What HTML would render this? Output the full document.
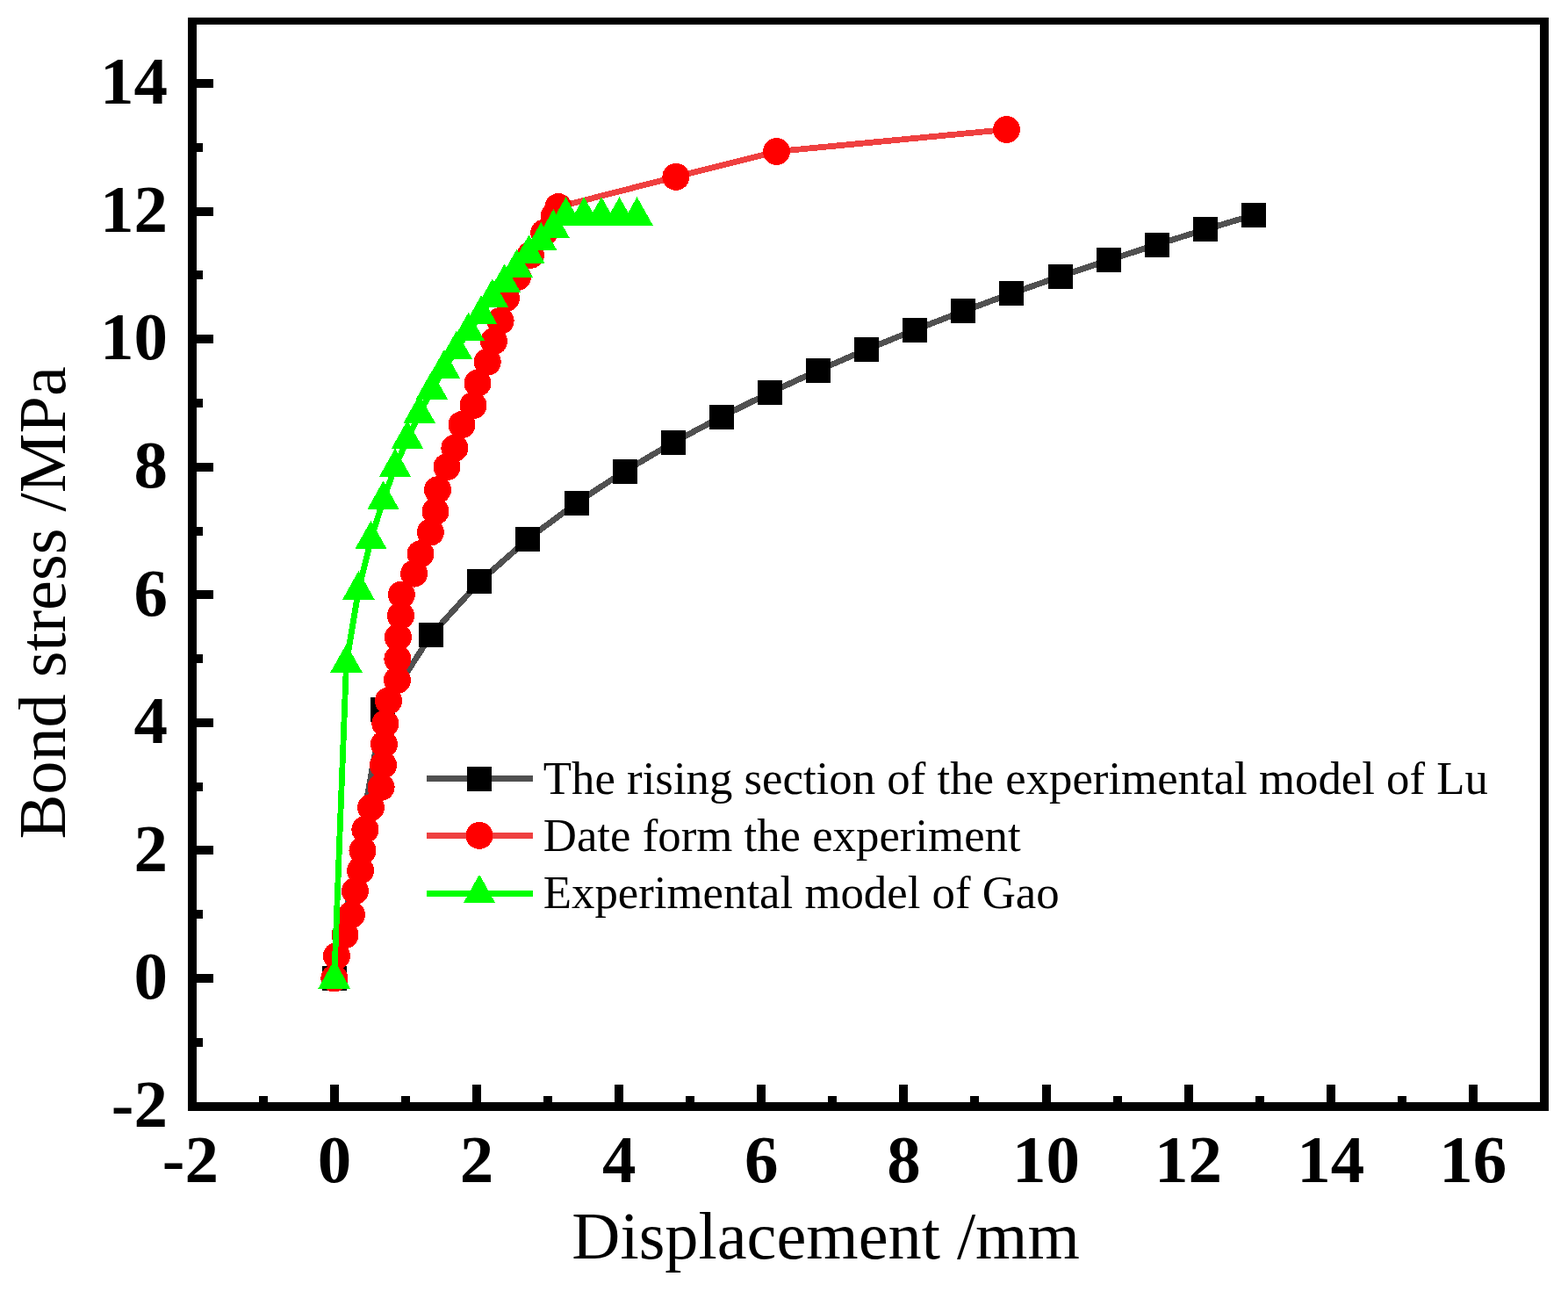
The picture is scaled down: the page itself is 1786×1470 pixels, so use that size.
<!DOCTYPE html><html><head><meta charset="utf-8"><title>Bond stress vs displacement</title>
<style>html,body{margin:0;padding:0;background:#fff;}body{width:1786px;height:1470px;overflow:hidden;}svg{display:block;}rect,circle,path,polyline{shape-rendering:crispEdges;}
text{font-family:"Liberation Serif","Times New Roman",serif;fill:#000;}
.tk{font-weight:bold;font-size:77px;}.at{font-size:76.3px;}.lg{font-size:52.8px;}</style></head><body>
<svg width="1786" height="1470" viewBox="0 0 1786 1470">
<rect x="0" y="0" width="1786" height="1470" fill="#fff"/>
<polyline fill="none" stroke="#505050" stroke-width="6.8" stroke-linejoin="round" points="381.0,1114.0 436.1,808.1 491.2,722.8 546.3,662.3 601.4,613.8 656.5,572.6 711.6,536.5 766.7,504.0 821.8,474.5 876.9,447.2 932.0,421.8 987.1,398.0 1042.2,375.6 1097.3,354.3 1152.4,334.1 1207.5,314.8 1262.6,296.3 1317.7,278.5 1372.8,261.4 1427.9,244.9"/>
<g fill="#000"><rect x="367.0" y="1100.0" width="28" height="28"/><rect x="422.1" y="794.1" width="28" height="28"/><rect x="477.2" y="708.8" width="28" height="28"/><rect x="532.3" y="648.3" width="28" height="28"/><rect x="587.4" y="599.8" width="28" height="28"/><rect x="642.5" y="558.6" width="28" height="28"/><rect x="697.6" y="522.5" width="28" height="28"/><rect x="752.7" y="490.0" width="28" height="28"/><rect x="807.8" y="460.5" width="28" height="28"/><rect x="862.9" y="433.2" width="28" height="28"/><rect x="918.0" y="407.8" width="28" height="28"/><rect x="973.1" y="384.0" width="28" height="28"/><rect x="1028.2" y="361.6" width="28" height="28"/><rect x="1083.3" y="340.3" width="28" height="28"/><rect x="1138.4" y="320.1" width="28" height="28"/><rect x="1193.5" y="300.8" width="28" height="28"/><rect x="1248.6" y="282.3" width="28" height="28"/><rect x="1303.7" y="264.5" width="28" height="28"/><rect x="1358.8" y="247.4" width="28" height="28"/><rect x="1413.9" y="230.9" width="28" height="28"/></g>
<polyline fill="none" stroke="#ef4040" stroke-width="6.8" stroke-linejoin="round" points="380.8,1114.0 383.4,1088.5 393.0,1064.6 400.4,1041.4 404.5,1014.5 410.6,991.2 413.0,968.5 415.9,944.6 422.5,919.5 434.1,896.3 436.5,871.2 437.5,847.3 438.8,823.8 442.5,798.0 452.5,774.3 452.9,750.4 453.4,725.7 456.5,701.0 457.4,677.1 471.6,653.1 479.0,630.7 490.4,606.0 496.0,582.3 498.5,557.8 509.0,531.7 517.9,510.2 526.0,483.6 539.0,461.6 544.0,436.3 555.2,412.2 562.5,388.7 570.1,365.4 576.5,339.3 589.6,315.3 604.4,290.3 619.7,265.2 631.4,245.4 636.0,235.6 769.9,201.4 884.5,172.5 1146.5,147.5"/>
<g fill="#ff0000"><circle cx="380.8" cy="1114.0" r="15.5"/><circle cx="383.4" cy="1088.5" r="15.5"/><circle cx="393.0" cy="1064.6" r="15.5"/><circle cx="400.4" cy="1041.4" r="15.5"/><circle cx="404.5" cy="1014.5" r="15.5"/><circle cx="410.6" cy="991.2" r="15.5"/><circle cx="413.0" cy="968.5" r="15.5"/><circle cx="415.9" cy="944.6" r="15.5"/><circle cx="422.5" cy="919.5" r="15.5"/><circle cx="434.1" cy="896.3" r="15.5"/><circle cx="436.5" cy="871.2" r="15.5"/><circle cx="437.5" cy="847.3" r="15.5"/><circle cx="438.8" cy="823.8" r="15.5"/><circle cx="442.5" cy="798.0" r="15.5"/><circle cx="452.5" cy="774.3" r="15.5"/><circle cx="452.9" cy="750.4" r="15.5"/><circle cx="453.4" cy="725.7" r="15.5"/><circle cx="456.5" cy="701.0" r="15.5"/><circle cx="457.4" cy="677.1" r="15.5"/><circle cx="471.6" cy="653.1" r="15.5"/><circle cx="479.0" cy="630.7" r="15.5"/><circle cx="490.4" cy="606.0" r="15.5"/><circle cx="496.0" cy="582.3" r="15.5"/><circle cx="498.5" cy="557.8" r="15.5"/><circle cx="509.0" cy="531.7" r="15.5"/><circle cx="517.9" cy="510.2" r="15.5"/><circle cx="526.0" cy="483.6" r="15.5"/><circle cx="539.0" cy="461.6" r="15.5"/><circle cx="544.0" cy="436.3" r="15.5"/><circle cx="555.2" cy="412.2" r="15.5"/><circle cx="562.5" cy="388.7" r="15.5"/><circle cx="570.1" cy="365.4" r="15.5"/><circle cx="576.5" cy="339.3" r="15.5"/><circle cx="589.6" cy="315.3" r="15.5"/><circle cx="604.4" cy="290.3" r="15.5"/><circle cx="619.7" cy="265.2" r="15.5"/><circle cx="631.4" cy="245.4" r="15.5"/><circle cx="636.0" cy="235.6" r="15.5"/><circle cx="769.9" cy="201.4" r="15.5"/><circle cx="884.5" cy="172.5" r="15.5"/><circle cx="1146.5" cy="147.5" r="15.5"/></g>
<polyline fill="none" stroke="#00ff00" stroke-width="6.8" stroke-linejoin="round" points="380.7,1114.6 394.5,754.9 408.4,671.7 422.5,614.5 436.5,569.3 450.0,532.2 464.0,500.1 477.7,471.0 491.8,444.0 505.8,419.9 519.9,398.3 533.7,377.1 548.0,358.1 560.8,339.1 574.7,322.0 588.7,305.1 602.4,289.1 616.3,274.5 630.4,259.8 644.5,245.9 665.2,245.9 685.1,245.9 705.5,245.9 725.6,245.9"/>
<g fill="#00ff00"><path d="M380.7 1092.9L399.0 1125.5L362.4 1125.5Z"/><path d="M394.5 733.2L412.8 765.8L376.2 765.8Z"/><path d="M408.4 650.0L426.7 682.6L390.1 682.6Z"/><path d="M422.5 592.8L440.8 625.4L404.2 625.4Z"/><path d="M436.5 547.6L454.8 580.2L418.2 580.2Z"/><path d="M450.0 510.5L468.3 543.1L431.7 543.1Z"/><path d="M464.0 478.4L482.3 511.0L445.7 511.0Z"/><path d="M477.7 449.3L496.0 481.9L459.4 481.9Z"/><path d="M491.8 422.3L510.1 454.9L473.5 454.9Z"/><path d="M505.8 398.2L524.1 430.8L487.5 430.8Z"/><path d="M519.9 376.6L538.2 409.2L501.6 409.2Z"/><path d="M533.7 355.4L552.0 388.0L515.4 388.0Z"/><path d="M548.0 336.4L566.3 369.0L529.7 369.0Z"/><path d="M560.8 317.4L579.1 350.0L542.5 350.0Z"/><path d="M574.7 300.3L593.0 332.9L556.4 332.9Z"/><path d="M588.7 283.4L607.0 316.0L570.4 316.0Z"/><path d="M602.4 267.4L620.7 300.0L584.1 300.0Z"/><path d="M616.3 252.8L634.6 285.4L598.0 285.4Z"/><path d="M630.4 238.1L648.7 270.7L612.1 270.7Z"/><path d="M644.5 224.2L662.8 256.8L626.2 256.8Z"/><path d="M665.2 224.2L683.5 256.8L646.9 256.8Z"/><path d="M685.1 224.2L703.4 256.8L666.8 256.8Z"/><path d="M705.5 224.2L723.8 256.8L687.2 256.8Z"/><path d="M725.6 224.2L743.9 256.8L707.3 256.8Z"/></g>
<g fill="#000">
<rect x="214" y="20" width="10" height="1245"/>
<rect x="1754" y="20" width="10" height="1245"/>
<rect x="214" y="20" width="1550" height="8"/>
<rect x="214" y="1255" width="1550" height="10"/>
<rect x="224" y="1181.8" width="7" height="10"/>
<rect x="224" y="1109.0" width="19" height="10"/>
<rect x="224" y="1036.2" width="7" height="10"/>
<rect x="224" y="963.4" width="19" height="10"/>
<rect x="224" y="890.6" width="7" height="10"/>
<rect x="224" y="817.8" width="19" height="10"/>
<rect x="224" y="745.0" width="7" height="10"/>
<rect x="224" y="672.3" width="19" height="10"/>
<rect x="224" y="599.5" width="7" height="10"/>
<rect x="224" y="526.7" width="19" height="10"/>
<rect x="224" y="453.9" width="7" height="10"/>
<rect x="224" y="381.1" width="19" height="10"/>
<rect x="224" y="308.3" width="7" height="10"/>
<rect x="224" y="235.5" width="19" height="10"/>
<rect x="224" y="162.7" width="7" height="10"/>
<rect x="224" y="89.9" width="19" height="10"/>
<rect x="294.9" y="1248" width="10" height="7"/>
<rect x="376.0" y="1235" width="10" height="20"/>
<rect x="457.1" y="1248" width="10" height="7"/>
<rect x="538.1" y="1235" width="10" height="20"/>
<rect x="619.1" y="1248" width="10" height="7"/>
<rect x="700.2" y="1235" width="10" height="20"/>
<rect x="781.2" y="1248" width="10" height="7"/>
<rect x="862.3" y="1235" width="10" height="20"/>
<rect x="943.4" y="1248" width="10" height="7"/>
<rect x="1024.4" y="1235" width="10" height="20"/>
<rect x="1105.4" y="1248" width="10" height="7"/>
<rect x="1186.5" y="1235" width="10" height="20"/>
<rect x="1267.5" y="1248" width="10" height="7"/>
<rect x="1348.6" y="1235" width="10" height="20"/>
<rect x="1429.6" y="1248" width="10" height="7"/>
<rect x="1510.7" y="1235" width="10" height="20"/>
<rect x="1591.8" y="1248" width="10" height="7"/>
<rect x="1672.8" y="1235" width="10" height="20"/>
</g>
<text class="tk" x="191" y="1282.8" text-anchor="end">-2</text>
<text class="tk" x="191" y="1137.2" text-anchor="end">0</text>
<text class="tk" x="191" y="991.6" text-anchor="end">2</text>
<text class="tk" x="191" y="846.0" text-anchor="end">4</text>
<text class="tk" x="191" y="700.5" text-anchor="end">6</text>
<text class="tk" x="191" y="554.9" text-anchor="end">8</text>
<text class="tk" x="191" y="409.3" text-anchor="end">10</text>
<text class="tk" x="191" y="263.7" text-anchor="end">12</text>
<text class="tk" x="191" y="118.1" text-anchor="end">14</text>
<text class="tk" x="216.9" y="1345.7" text-anchor="middle">-2</text>
<text class="tk" x="381.0" y="1345.7" text-anchor="middle">0</text>
<text class="tk" x="543.1" y="1345.7" text-anchor="middle">2</text>
<text class="tk" x="705.2" y="1345.7" text-anchor="middle">4</text>
<text class="tk" x="867.3" y="1345.7" text-anchor="middle">6</text>
<text class="tk" x="1029.4" y="1345.7" text-anchor="middle">8</text>
<text class="tk" x="1191.5" y="1345.7" text-anchor="middle">10</text>
<text class="tk" x="1353.6" y="1345.7" text-anchor="middle">12</text>
<text class="tk" x="1515.7" y="1345.7" text-anchor="middle">14</text>
<text class="tk" x="1677.8" y="1345.7" text-anchor="middle">16</text>
<text class="at" x="940.6" y="1432.8" text-anchor="middle">Displacement /mm</text>
<text class="at" transform="translate(74,686.4) rotate(-90)" text-anchor="middle">Bond stress /MPa</text>
<rect x="486" y="883.1" width="121" height="6.8" fill="#505050"/>
<g fill="#000"><rect x="532.0" y="872.5" width="28" height="28"/></g>
<text class="lg" x="618.8" y="904.3">The rising section of the experimental model of Lu</text>
<rect x="486" y="948.0" width="121" height="6.8" fill="#ef4040"/>
<g fill="#ff0000"><circle cx="546.0" cy="951.4" r="15.5"/></g>
<text class="lg" x="618.8" y="968.8">Date form the experiment</text>
<rect x="486" y="1014.0" width="121" height="6.8" fill="#00ff00"/>
<g fill="#00ff00"><path d="M546.0 995.7L564.3 1028.3L527.7 1028.3Z"/></g>
<text class="lg" x="618.8" y="1033.8">Experimental model of Gao</text>
</svg></body></html>
